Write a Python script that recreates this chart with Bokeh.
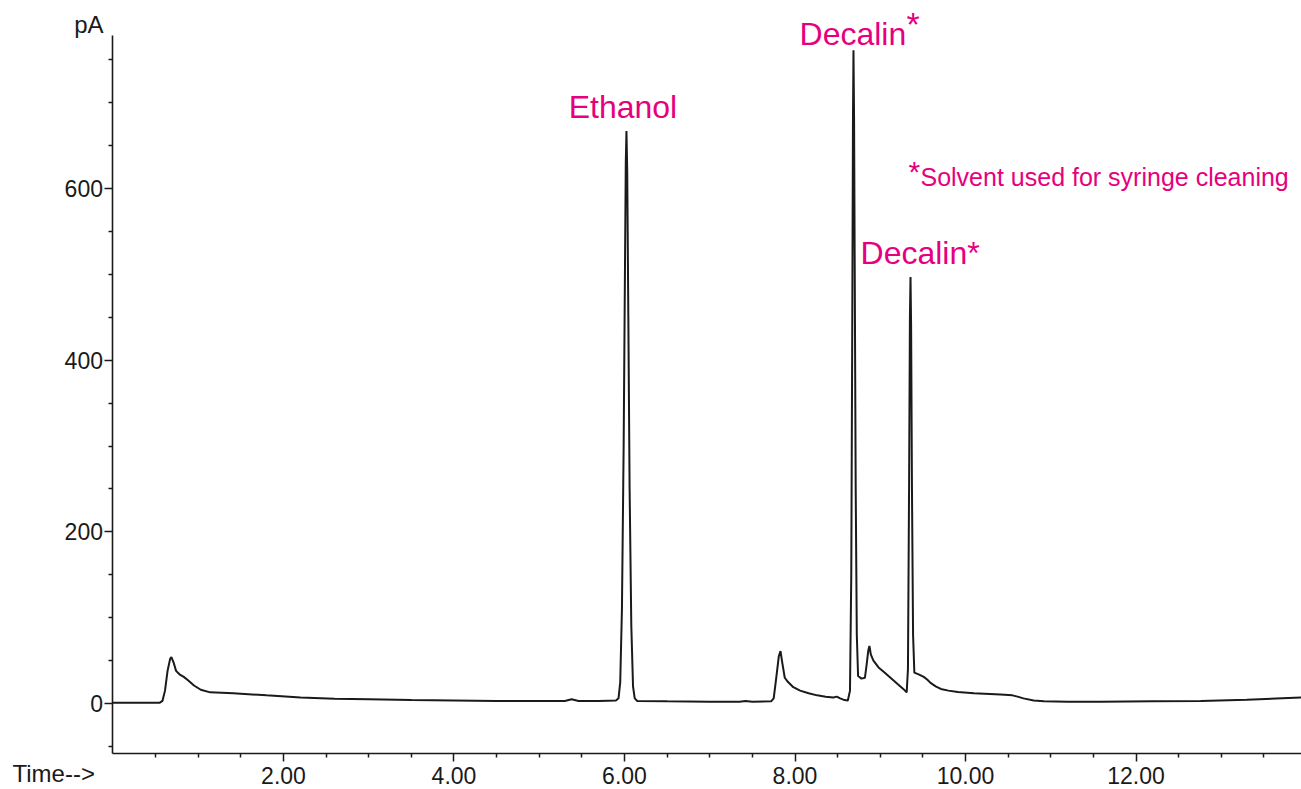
from bokeh.plotting import figure
from bokeh.models import FixedTicker, PrintfTickFormatter, Label, Range1d, LinearAxis
from bokeh.embed import file_html
from bokeh.resources import INLINE

# ---- data ----
time_min = [
    0.00, 0.55, 0.58, 0.61, 0.64, 0.67, 0.685, 0.71, 0.74, 0.78, 0.83, 0.88, 0.95, 1.03,
    1.14, 1.41, 1.80, 2.20, 2.60, 3.00, 3.50, 4.00, 4.50, 5.00, 5.30, 5.38, 5.46, 5.70,
    5.90, 5.93, 5.95, 5.97, 5.99, 6.005, 6.015, 6.023, 6.032, 6.045, 6.06, 6.08, 6.10,
    6.12, 6.15, 6.50, 7.00, 7.35, 7.42, 7.50, 7.72, 7.75, 7.78, 7.81, 7.83, 7.85, 7.88,
    7.91, 7.98, 8.06, 8.16, 8.26, 8.36, 8.45, 8.49, 8.53, 8.58, 8.62, 8.645, 8.66, 8.672,
    8.68, 8.686, 8.693, 8.70, 8.712, 8.725, 8.74, 8.78, 8.82, 8.84, 8.86, 8.873, 8.89,
    8.92, 8.98, 9.05, 9.12, 9.20, 9.27, 9.31, 9.325, 9.338, 9.348, 9.355, 9.362, 9.372,
    9.385, 9.40, 9.45, 9.51, 9.55, 9.59, 9.65, 9.71, 9.80, 9.91, 10.10, 10.41, 10.55,
    10.61, 10.68, 10.80, 10.92, 11.20, 11.58, 12.20, 12.76, 13.30, 13.94,
]
signal_pA = [
    1, 1, 3, 15, 38, 52, 54, 48, 38, 34, 31, 27, 21, 16,
    13, 12, 9.5, 7, 5.5, 5, 4, 3.5, 3, 3, 3, 5, 3, 3,
    3.5, 6, 25, 110, 300, 500, 630, 667, 620, 450, 250, 90, 20,
    6, 3, 2.5, 2, 2, 3, 2, 2.5, 6, 30, 55, 61, 48, 30,
    26, 19, 15, 12, 9.5, 8, 7, 8, 6, 4, 3.5, 15, 150, 450,
    680, 761, 680, 520, 250, 80, 32, 29, 30, 45, 62, 67, 57,
    50, 42, 36, 30, 23, 17, 13, 40, 250, 450, 497, 440, 250,
    80, 36, 34, 31, 28, 24, 20, 17, 15, 13.5, 12, 10.5, 9.5,
    8, 6, 3.5, 2.5, 2, 2, 2.5, 3, 4.5, 7,
]

x_major_ticks = [2, 4, 6, 8, 10, 12]
x_minor_ticks = [0.5, 1, 1.5, 2.5, 3, 3.5, 4.5, 5, 5.5, 6.5, 7, 7.5, 8.5, 9, 9.5,
                 10.5, 11, 11.5, 12.5, 13, 13.5]
y_major_ticks = [0, 200, 400, 600]
y_minor_ticks = [-50, 50, 100, 150, 250, 300, 350, 450, 500, 550, 650, 700, 750]

peak_names = ["Ethanol", "Decalin", "Decalin*"]
peak_label_x = [5.982, 8.053, 8.769]
peak_label_y = [694.4, 780.6, 524.3]
footnote = "Solvent used for syringe cleaning"

PINK = "#E6007E"
INK = "#1a1a1a"
FONT = "Liberation Sans"

# axis extents (where the drawn axes start/stop)
X_AXIS_BOUNDS = (0, 13.94)
Y_AXIS_BOUNDS = (-58.25, 778.25)

p = figure(width=1301, height=789, output_backend="svg", toolbar_location=None,
           x_range=Range1d(-1.3196, 13.9413), y_range=Range1d(-100.19, 819.06),
           x_axis_type=None, y_axis_type=None,
           min_border_left=0, min_border_right=0, min_border_top=0,
           min_border_bottom=0)
p.outline_line_color = None
p.background_fill_color = "white"
p.border_fill_color = "white"

p.line(time_min, signal_pA, line_color=INK, line_width=2)

xaxis = LinearAxis(fixed_location=Y_AXIS_BOUNDS[0], bounds=X_AXIS_BOUNDS,
                   ticker=FixedTicker(ticks=x_major_ticks, minor_ticks=x_minor_ticks),
                   formatter=PrintfTickFormatter(format="%.2f"),
                   major_label_standoff=5)
yaxis = LinearAxis(fixed_location=X_AXIS_BOUNDS[0], bounds=Y_AXIS_BOUNDS,
                   ticker=FixedTicker(ticks=y_major_ticks, minor_ticks=y_minor_ticks),
                   major_label_standoff=2)
for ax in (xaxis, yaxis):
    ax.axis_line_color = INK
    ax.axis_line_width = 1.6
    ax.major_tick_line_color = INK
    ax.minor_tick_line_color = INK
    ax.major_tick_line_width = 1.5
    ax.minor_tick_line_width = 1.5
    ax.major_tick_in = 0
    ax.major_tick_out = 8
    ax.minor_tick_in = 0
    ax.minor_tick_out = 4
    ax.major_label_text_font = FONT
    ax.major_label_text_font_size = "23px"
    ax.major_label_text_color = INK
p.add_layout(xaxis, "below")
p.add_layout(yaxis, "left")

# axis captions
p.add_layout(Label(x=-0.111, y=791.1, text="pA", text_align="right",
                   text_baseline="alphabetic", text_font=FONT,
                   text_font_size="24px", text_color=INK))
p.add_layout(Label(x=-1.179, y=-81.5, text="Time-->", text_align="left",
                   text_baseline="alphabetic", text_font=FONT,
                   text_font_size="24px", text_color=INK))

# peak annotations
p.add_layout(Label(x=peak_label_x[0], y=peak_label_y[0], text=peak_names[0],
                   text_align="center", text_baseline="alphabetic",
                   text_font=FONT, text_font_size="32px", text_color=PINK))
p.add_layout(Label(x=peak_label_x[1], y=peak_label_y[1], text=peak_names[1],
                   text_align="left", text_baseline="alphabetic",
                   text_font=FONT, text_font_size="32px", text_color=PINK))
p.add_layout(Label(x=9.308, y=792.2, text="*", text_align="left",
                   text_baseline="alphabetic", text_font=FONT,
                   text_font_size="34px", text_color=PINK))
p.add_layout(Label(x=peak_label_x[2], y=peak_label_y[2], text=peak_names[2],
                   text_align="left", text_baseline="alphabetic",
                   text_font=FONT, text_font_size="32px", text_color=PINK))

# footnote
p.add_layout(Label(x=9.331, y=619.8, text="*", text_align="left",
                   text_baseline="alphabetic", text_font=FONT,
                   text_font_size="30px", text_color=PINK))
p.add_layout(Label(x=9.472, y=614.0, text=footnote, text_align="left",
                   text_baseline="alphabetic", text_font=FONT,
                   text_font_size="25px", text_color=PINK))

open("out.html", "w").write(file_html(p, INLINE))
